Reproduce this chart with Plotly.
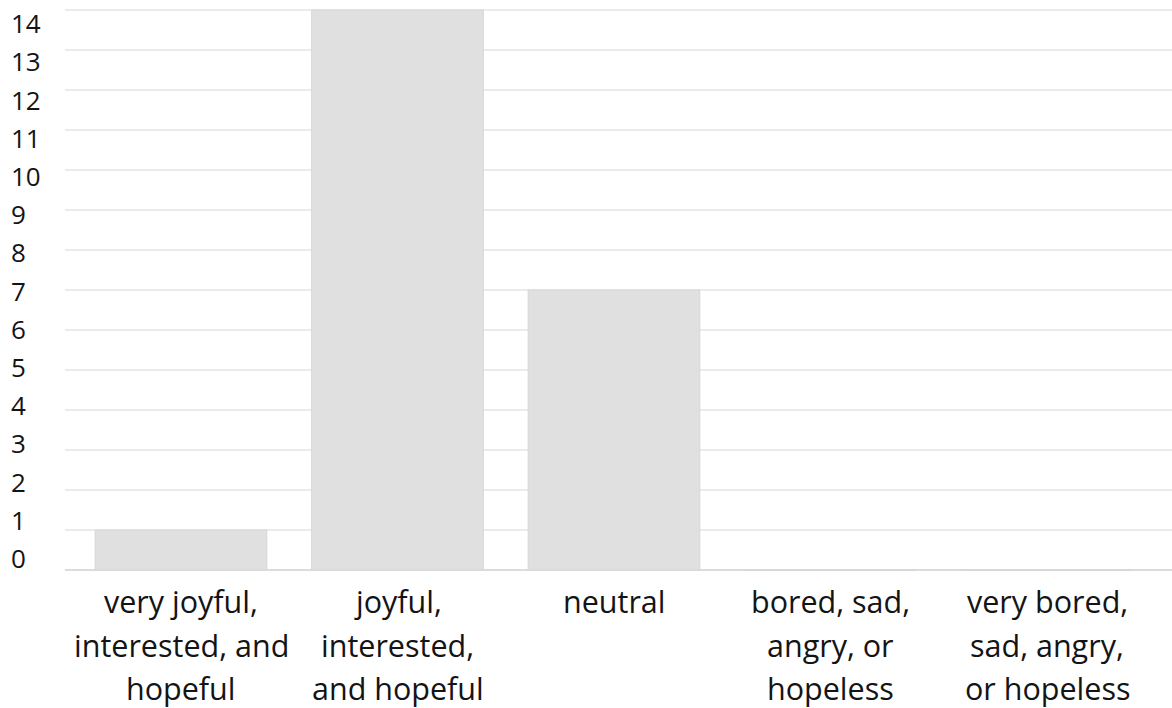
import plotly.graph_objects as go

# Survey responses: how students felt
categories = [
    "very joyful, interested, and hopeful",
    "joyful, interested, and hopeful",
    "neutral",
    "bored, sad, angry, or hopeless",
    "very bored, sad, angry, or hopeless",
]
# Category labels broken into the lines they are printed on
label_lines = [
    ["very joyful,", "interested, and", "hopeful"],
    ["joyful,", "interested,", "and hopeful"],
    ["neutral"],
    ["bored, sad,", "angry, or", "hopeless"],
    ["very bored,", "sad, angry,", "or hopeless"],
]
counts = [1, 14, 7, 0, 0]
y_ticks = list(range(0, 15))

W, H = 1172, 708
PLOT_LEFT = 65
FONT = "Open Sans"
TEXT_COLOR = "#141414"

fig = go.Figure()

fig.add_trace(go.Bar(
    x=list(range(len(categories))),
    y=counts,
    width=0.793,
    marker=dict(color="#e0e0e0", line=dict(color="#d6d6d6", width=1)),
    hoverinfo="skip",
    showlegend=False,
))

# carrier trace for the left-aligned value axis
fig.add_trace(go.Scatter(x=[], y=[], yaxis="y2", showlegend=False, hoverinfo="skip"))

# x range in category units so that the plot starts at PLOT_LEFT
cat_w = 216.5
first_center = 181
x_lo = (PLOT_LEFT - first_center) / cat_w
x_hi = (W - first_center) / cat_w

annotations = []
line_offsets = [-31.2, -75.2, -118.2]
for i, lines in enumerate(label_lines):
    for j, txt in enumerate(lines):
        annotations.append(dict(
            x=i, y=0, xref="x", yref="y",
            text=txt, showarrow=False,
            xanchor="center", yanchor="middle",
            yshift=line_offsets[j],
            font=dict(family=FONT, size=30.5, color=TEXT_COLOR),
        ))

fig.update_layout(
    width=W, height=H,
    margin=dict(l=0, r=0, t=4, b=126),
    paper_bgcolor="white",
    plot_bgcolor="white",
    bargap=0.207,
    xaxis=dict(
        domain=[PLOT_LEFT / W, 1],
        range=[x_lo, x_hi],
        showticklabels=False,
        showgrid=False,
        zeroline=False,
        showline=False,
        ticks="",
        fixedrange=True,
    ),
    yaxis=dict(
        range=[-0.3, 14.15],
        tickvals=y_ticks,
        showticklabels=False,
        showgrid=True,
        gridcolor="#ebebeb",
        gridwidth=2,
        zeroline=True,
        zerolinecolor="#dcdcdc",
        zerolinewidth=2,
        showline=False,
        ticks="",
        fixedrange=True,
    ),
    yaxis2=dict(
        overlaying="y",
        anchor="free",
        position=0,
        side="left",
        range=[-0.6019, 14.523],
        tickvals=y_ticks,
        ticktext=[str(v) for v in y_ticks],
        ticklabelposition="inside",
        ticklabelstandoff=7,
        tickfont=dict(family=FONT, size=26, color=TEXT_COLOR),
        showgrid=False,
        zeroline=False,
        showline=False,
        ticks="",
        fixedrange=True,
    ),
    annotations=annotations,
)

fig.write_html("out.html")
